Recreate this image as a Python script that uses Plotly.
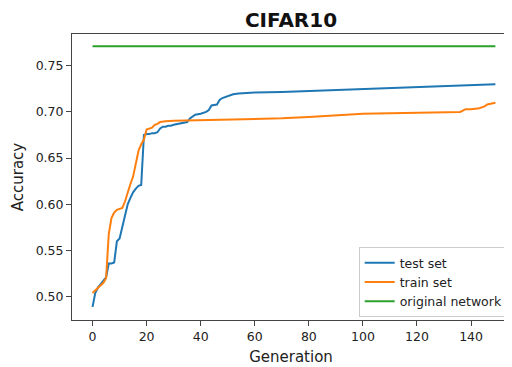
import plotly.graph_objects as go

# Test-set accuracy (generation, value)
test_gen = [0, 1, 2, 3, 4, 5, 6, 7, 8, 9, 10, 11, 12, 13, 14, 15, 16, 17, 18, 19,
            20, 21, 22, 23, 24, 25, 26, 27, 28, 29, 30, 32, 34, 35, 36, 37, 38, 40,
            42, 43, 44, 46, 47, 48, 50, 52, 54, 56, 60, 70, 80, 90, 100, 110, 120,
            130, 140, 149]
test_acc = [0.489, 0.504, 0.510, 0.514, 0.518, 0.521, 0.536, 0.536, 0.537, 0.560,
            0.563, 0.576, 0.588, 0.600, 0.607, 0.613, 0.617, 0.620, 0.621, 0.675,
            0.676, 0.676, 0.677, 0.677, 0.678, 0.682, 0.684, 0.684, 0.685, 0.685,
            0.686, 0.687, 0.688, 0.689, 0.693, 0.695, 0.697, 0.698, 0.700, 0.702,
            0.707, 0.708, 0.713, 0.715, 0.717, 0.719, 0.720, 0.7205, 0.721, 0.7215,
            0.7225, 0.7235, 0.7245, 0.7255, 0.7265, 0.728, 0.729, 0.730]

# Train-set accuracy (generation, value)
train_gen = [0, 1, 2, 3, 4, 5, 6, 7, 8, 9, 10, 11, 12, 13, 14, 15, 16, 17, 18, 19,
             20, 21, 22, 23, 24, 25, 27, 30, 40, 50, 60, 70, 80, 90, 100, 110, 120,
             130, 136, 138, 140, 143, 145, 146, 148, 149]
train_acc = [0.504, 0.507, 0.510, 0.512, 0.515, 0.520, 0.568, 0.585, 0.591, 0.594,
             0.595, 0.596, 0.603, 0.614, 0.622, 0.630, 0.645, 0.658, 0.665, 0.670,
             0.681, 0.682, 0.683, 0.686, 0.687, 0.689, 0.690, 0.6905, 0.691, 0.692,
             0.6925, 0.693, 0.6945, 0.6965, 0.698, 0.6985, 0.699, 0.6995, 0.700,
             0.703, 0.703, 0.704, 0.706, 0.708, 0.709, 0.710]

# Original network accuracy
orig_gen = [0, 149]
orig_acc = [0.771, 0.771]

x_ticks = [0, 20, 40, 60, 80, 100, 120, 140]
y_ticks = [0.50, 0.55, 0.60, 0.65, 0.70, 0.75]
y_tick_labels = ["0.50", "0.55", "0.60", "0.65", "0.70", "0.75"]

FONT = "DejaVu Sans"
AX = "#444444"

# The page body has an 8px default margin, so the figure is 8px smaller
W, H = 504, 359

fig = go.Figure()
fig.add_trace(go.Scatter(x=test_gen, y=test_acc, mode="lines", name="test set",
                         line=dict(color="#1f77b4", width=2)))
fig.add_trace(go.Scatter(x=train_gen, y=train_acc, mode="lines", name="train set",
                         line=dict(color="#ff7f0e", width=2)))
fig.add_trace(go.Scatter(x=orig_gen, y=orig_acc, mode="lines", name="original network",
                         line=dict(color="#2ca02c", width=2)))

fig.update_layout(
    width=W, height=H,
    margin=dict(l=64, r=2, t=26, b=47),
    paper_bgcolor="white", plot_bgcolor="white",
    font=dict(family=FONT, size=12.5, color="#222222"),
    title=dict(text="<b>CIFAR10</b>", x=283 / W, xanchor="center",
               y=1 - 12 / H, yanchor="middle",
               font=dict(family=FONT, size=20, color="#111111")),
    legend=dict(x=0.997, y=0.01, xanchor="right", yanchor="bottom",
                bgcolor="rgba(255,255,255,0.8)", bordercolor="#cccccc", borderwidth=1,
                font=dict(family=FONT, size=12.5, color="#222222"),
                tracegroupgap=0),
    showlegend=True,
)
fig.update_xaxes(range=[-7.6, 154.4], tickvals=x_ticks, ticks="outside", ticklen=5,
                 tickcolor=AX, showline=True, linecolor=AX, linewidth=1, mirror=True,
                 showgrid=False, zeroline=False,
                 title=dict(text="Generation", font=dict(family=FONT, size=15), standoff=8))
fig.update_yaxes(range=[0.4748, 0.7843], tickvals=y_ticks, ticktext=y_tick_labels,
                 ticks="outside", ticklen=5, tickcolor=AX, showline=True, linecolor=AX,
                 linewidth=1, mirror=True, showgrid=False, zeroline=False,
                 title=dict(text="Accuracy", font=dict(family=FONT, size=15), standoff=8))

fig.write_html("out.html")
